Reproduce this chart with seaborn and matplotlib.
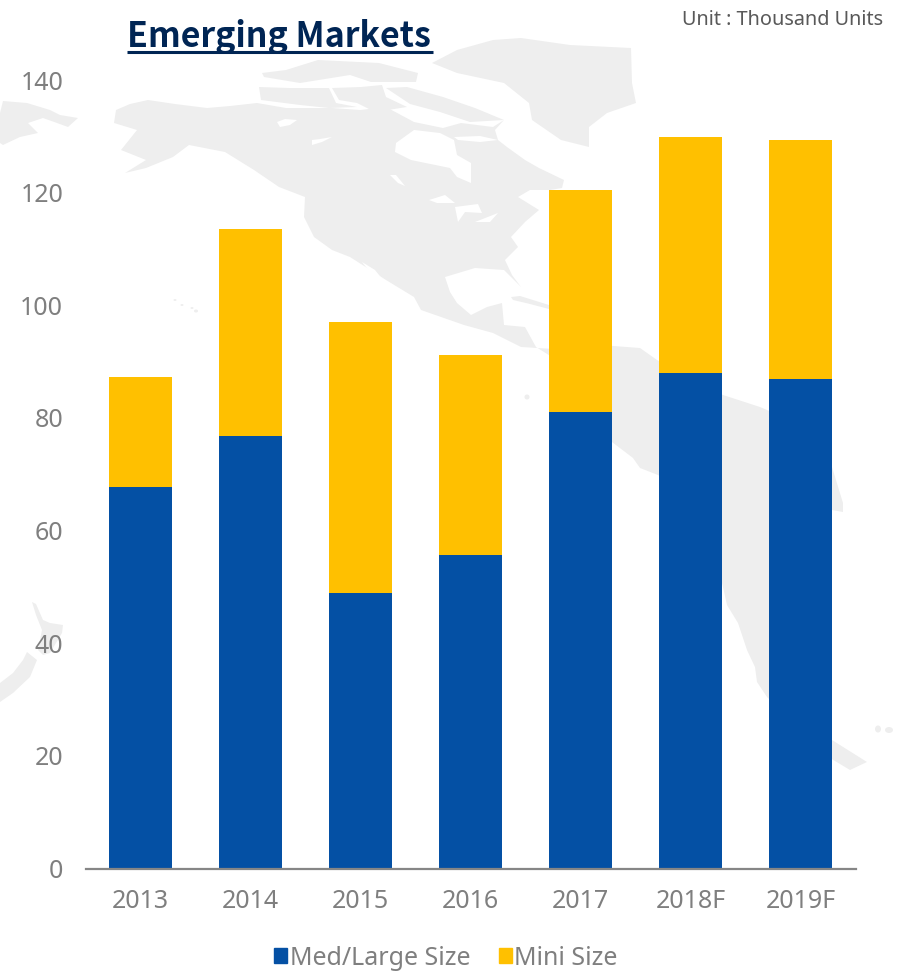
import matplotlib
matplotlib.use("Agg")
import matplotlib.pyplot as plt
import numpy as np
import pandas as pd
import seaborn as sns
from matplotlib.patches import Ellipse, Polygon, Rectangle

years = ["2013", "2014", "2015", "2016", "2017", "2018F", "2019F"]
med_large = [67.7, 76.8, 48.9, 55.7, 81.0, 88.0, 86.9]
mini = [19.6, 36.7, 48.1, 35.5, 39.5, 41.8, 42.5]
y_ticks = [0, 20, 40, 60, 80, 100, 120, 140]

BLUE = "#0450A4"
YELLOW = "#FFC000"
GREY_TEXT = "#7F7F7F"
NAVY = "#002554"
LAND = "#EEEEEE"

# Decorative world map backdrop, outlined in figure pixels
north_america = [
    (116, 110), (130, 104), (148, 100), (175, 104), (207, 108), (230, 106), (257, 103),
    (286, 108), (332, 108), (360, 110), (386, 107), (414, 122), (443, 128), (461, 123),
    (493, 127), (504, 120), (495, 130), (498, 140), (507, 147), (525, 160), (539, 168),
    (564, 180), (562, 188), (550, 190), (530, 190), (518, 197), (539, 210), (525, 222),
    (511, 237), (518, 247), (505, 260), (512, 275), (521, 287), (504, 270), (475, 268),
    (445, 277), (450, 292), (457, 303), (471, 315), (487, 307), (502, 303), (504, 325),
    (525, 327), (536, 347), (560, 362), (570, 350), (521, 347), (493, 333), (464, 325),
    (421, 310), (414, 297), (386, 280), (350, 257), (332, 250), (314, 237), (304, 217),
    (305, 197), (279, 187), (254, 170), (225, 152), (189, 145), (173, 157), (146, 168),
    (125, 173), (146, 160), (121, 150), (137, 130), (114, 123),
]
greenland = [
    (432, 63), (457, 50), (493, 40), (521, 38), (570, 45), (631, 48), (632, 83), (636, 103),
    (607, 113), (589, 127), (589, 147), (561, 140), (532, 120), (529, 103), (504, 83), (457, 73),
]
arctic_islands = [
    [(259, 87), (289, 88), (329, 88), (336, 103), (357, 107), (329, 108), (300, 105), (261, 100)],
    [(332, 88), (361, 87), (382, 85), (386, 97), (407, 107), (375, 112), (357, 103), (339, 100)],
    [(386, 88), (407, 87), (443, 97), (475, 108), (504, 120), (470, 122), (440, 112), (410, 104)],
    [(262, 73), (286, 70), (318, 60), (379, 63), (418, 73), (416, 82), (371, 82), (350, 75),
     (300, 83), (264, 77)],
]
south_america = [
    (600, 345), (640, 348), (657, 360), (723, 395), (760, 407), (790, 420), (832, 467),
    (843, 503), (843, 512), (832, 510), (810, 560), (800, 640), (820, 710), (832, 740),
    (867, 762), (850, 770), (825, 755), (790, 720), (767, 697), (757, 682), (755, 667),
    (747, 650), (738, 623), (727, 605), (723, 587), (700, 500), (658, 475), (640, 468),
    (633, 458), (612, 442), (590, 420), (566, 380),
]
cuba = [(511, 297), (520, 296), (549, 305), (549, 309), (530, 304), (513, 300)]
siberia = [
    (0, 113), (3, 101), (27, 103), (50, 110), (60, 115), (78, 118), (68, 127), (57, 123),
    (43, 118), (28, 123), (38, 133), (20, 137), (3, 145), (0, 143),
]
new_zealand_north = [
    (32, 602), (36, 604), (43, 620), (50, 623), (63, 625), (62, 633), (50, 653), (43, 655),
    (38, 650), (42, 630), (36, 615),
]
new_zealand_south = [
    (27, 652), (37, 660), (30, 677), (13, 693), (0, 702), (0, 683), (13, 673), (23, 660),
]
# Inland water and gulfs, painted over the land
waters = [
    [(396, 143), (414, 130), (440, 133), (454, 140), (457, 155), (471, 163), (471, 183),
     (457, 177), (450, 168), (411, 160), (395, 152)],
    [(454, 137), (480, 136), (498, 140), (480, 142), (458, 140)],
    [(277, 122), (285, 119), (297, 120), (290, 125), (280, 127)],
    [(312, 140), (320, 139), (332, 137), (322, 142), (312, 145)],
    [(390, 175), (396, 175), (405, 186), (398, 183)],
    [(429, 200), (445, 195), (455, 203), (437, 203)],
    [(455, 207), (478, 204), (482, 213), (465, 212), (458, 222)],
    [(475, 222), (498, 213), (490, 222)],
    [(362, 262), (375, 270), (396, 296), (380, 285)],
]
specks = [(175, 300, 3, 2), (182, 305, 3, 2), (192, 308, 3, 2), (196, 311, 4, 3),
          (527, 397, 5, 5), (878, 729, 6, 7), (889, 730, 8, 6)]

sns.set_theme(style="white")
plt.rcParams["font.family"] = ["Noto Sans", "DejaVu Sans"]

fig = plt.figure(figsize=(8.97, 9.71), dpi=100, facecolor="white")

backdrop = fig.add_axes([0, 0, 1, 1], zorder=0)
backdrop.set_xlim(0, 897)
backdrop.set_ylim(971, 0)
backdrop.axis("off")
for outline in [north_america, greenland, south_america, cuba, siberia,
                new_zealand_north, new_zealand_south, *arctic_islands]:
    backdrop.add_patch(Polygon(outline, closed=True, facecolor=LAND, edgecolor="none"))
for outline in waters:
    backdrop.add_patch(Polygon(outline, closed=True, facecolor="white", edgecolor="none"))
for cx, cy, w, h in specks:
    backdrop.add_patch(Ellipse((cx, cy), w, h, facecolor=LAND, edgecolor="none"))

# Axes box: x 85.5-855.5 px, y 80-868.5 px
ax = fig.add_axes([85.5 / 897, 1 - 868.5 / 971, 770 / 897, 788.5 / 971], zorder=1)
ax.patch.set_alpha(0)

df = pd.DataFrame({"year": years, "Med/Large Size": med_large, "Mini Size": mini})
sns.barplot(data=df, x="year", y="Med/Large Size", color=BLUE, saturation=1,
            width=0.57, linewidth=0, ax=ax, label="Med/Large Size")
sns.barplot(data=df, x="year", y="Mini Size", bottom=df["Med/Large Size"], color=YELLOW,
            saturation=1, width=0.57, linewidth=0, ax=ax, label="Mini Size")

ax.set_xlim(-0.5, 6.5)
ax.set_ylim(0, 140)
ax.set_yticks(y_ticks)
ax.set_xlabel("")
ax.set_ylabel("")
ax.tick_params(axis="y", length=0, pad=16, labelsize=18, labelcolor=GREY_TEXT)
ax.tick_params(axis="x", length=0, pad=14.5, labelsize=18, labelcolor=GREY_TEXT)
ax.grid(False)
sns.despine(ax=ax, left=True)
ax.spines["bottom"].set_color("#868686")
ax.spines["bottom"].set_linewidth(1.6)

handles = [Rectangle((0, 0), 1, 1, color=BLUE), Rectangle((0, 0), 1, 1, color=YELLOW)]
ax.legend(handles, ["Med/Large Size", "Mini Size"], ncol=2, frameon=False, fontsize=18,
          labelcolor=GREY_TEXT, loc="center", bbox_to_anchor=(360.5 / 770, -89.5 / 788.5),
          bbox_transform=ax.transAxes, handlelength=0.52, handleheight=0.52,
          handletextpad=0.1, columnspacing=1.15, borderpad=0, borderaxespad=0)

fig.text(127 / 897, 1 - 47 / 971, "Emerging Markets", color=NAVY, fontsize=24.5,
         fontweight="bold", family=["Noto Sans CJK KR", "DejaVu Sans"], ha="left", va="baseline")
backdrop.plot([127, 433], [52, 52], color=NAVY, lw=2.2, solid_capstyle="butt", zorder=5)
fig.text(883 / 897, 1 - 20 / 971, "Unit : Thousand Units", color="#595959", fontsize=14.3,
         ha="right", va="center")

fig.savefig("out.png", dpi=100)
